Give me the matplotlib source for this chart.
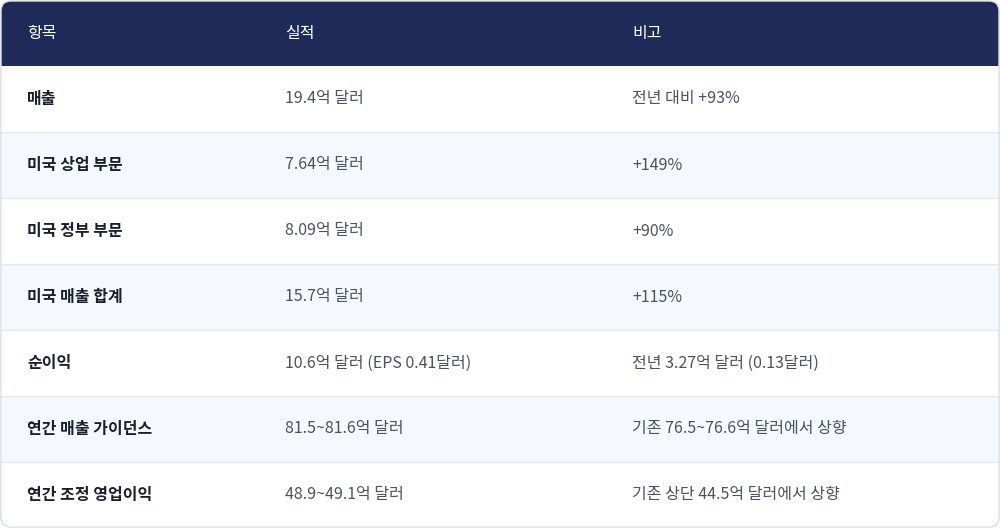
import matplotlib
matplotlib.use("Agg")
import matplotlib.pyplot as plt
from matplotlib.patches import FancyBboxPatch, Rectangle

plt.rcParams['font.family'] = ['Noto Sans CJK KR', 'DejaVu Sans']

headers = ["항목", "실적", "비고"]
items = ["매출", "미국 상업 부문", "미국 정부 부문", "미국 매출 합계", "순이익",
         "연간 매출 가이던스", "연간 조정 영업이익"]
results = ["19.4억 달러", "7.64억 달러", "8.09억 달러", "15.7억 달러",
           "10.6억 달러 (EPS 0.41달러)", "81.5~81.6억 달러", "48.9~49.1억 달러"]
notes = ["전년 대비 +93%", "+149%", "+90%", "+115%", "전년 3.27억 달러 (0.13달러)",
         "기존 76.5~76.6억 달러에서 상향", "기존 상단 44.5억 달러에서 상향"]

W, H = 1000, 528
fig = plt.figure(figsize=(10, 5.28), dpi=100)
ax = fig.add_axes([0, 0, 1, 1])
ax.set_xlim(0, W)
ax.set_ylim(H, 0)
ax.axis('off')

col_x = [27, 285, 632]
top, head_h, row_h = 1, 65, 66
navy = '#1e2b58'

# outer rounded frame (clip path)
frame = FancyBboxPatch((1, 1), W - 2, H - 2, boxstyle="round,pad=0,rounding_size=10",
                       fc='white', ec='#dde2ea', lw=1, zorder=0)
ax.add_patch(frame)

hdr = Rectangle((0, 0), W, top + head_h, fc=navy, ec='none', zorder=1)
ax.add_patch(hdr)
hdr.set_clip_path(frame)
for x, h in zip(col_x, headers):
    ax.text(x, top + head_h / 2, h, color='white', fontsize=11.5, fontweight='medium',
            va='center', ha='left', zorder=3)

for i, (a, b, c) in enumerate(zip(items, results, notes)):
    y0 = top + head_h + i * row_h
    bg = Rectangle((0, y0), W, row_h, fc='#f5f8fd' if i % 2 else 'white', ec='none', zorder=1)
    ax.add_patch(bg)
    bg.set_clip_path(frame)
    if i > 0:
        ax.plot([1, W - 1], [y0, y0], color='#e3e7ee', lw=1, zorder=2)
    yc = y0 + row_h / 2
    ax.text(col_x[0], yc, a, color='#1a1f2e', fontsize=11.5, fontweight='bold', va='center', zorder=3)
    ax.text(col_x[1], yc, b, color='#4a5162', fontsize=11.5, va='center', zorder=3)
    ax.text(col_x[2], yc, c, color='#4a5162', fontsize=11.5, va='center', zorder=3)

ax.add_patch(FancyBboxPatch((1, 1), W - 2, H - 2, boxstyle="round,pad=0,rounding_size=10",
                            fc='none', ec='#dde2ea', lw=1, zorder=4))

fig.savefig("out.png", dpi=100)
